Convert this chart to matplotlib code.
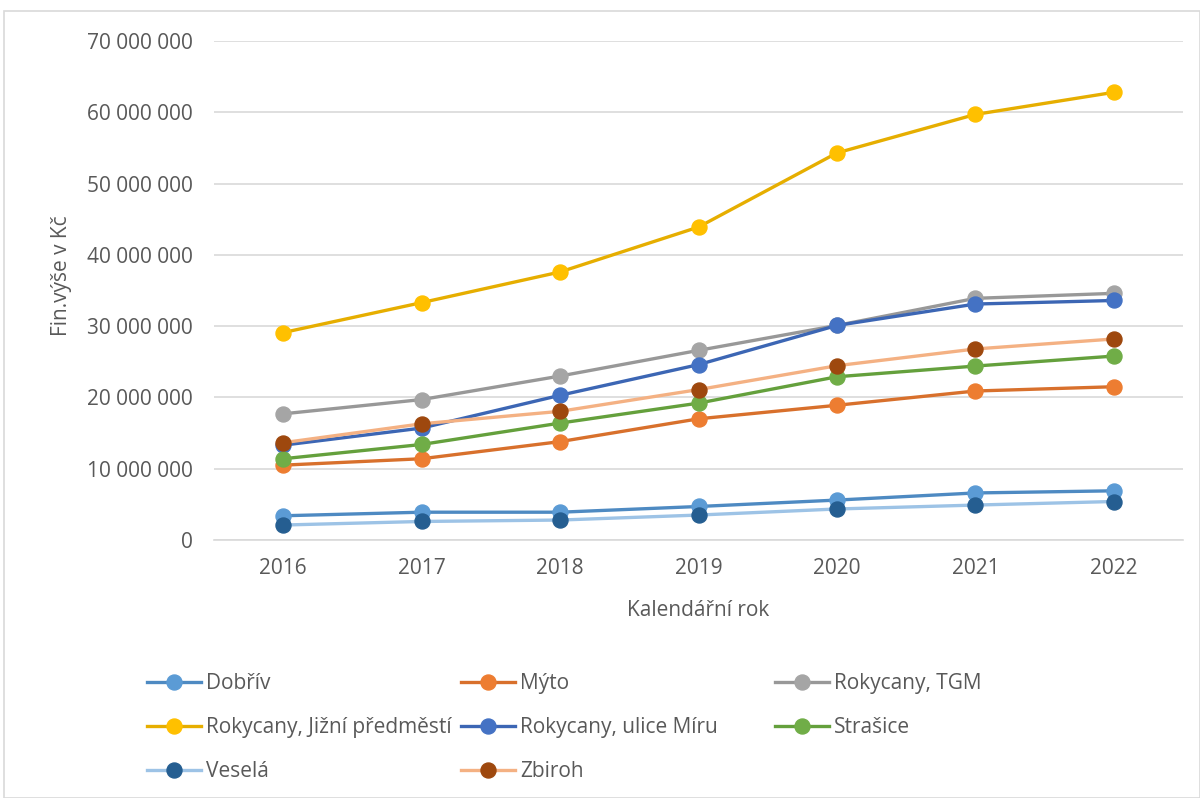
import matplotlib
matplotlib.use("Agg")
import matplotlib.pyplot as plt
from matplotlib.ticker import FuncFormatter
from matplotlib.patches import Rectangle

plt.rcParams['font.family'] = ['Open Sans', 'DejaVu Sans']

years = [2016, 2017, 2018, 2019, 2020, 2021, 2022]

dobriv = [3.4e6, 3.9e6, 3.9e6, 4.7e6, 5.6e6, 6.6e6, 6.9e6]
myto = [10.5e6, 11.4e6, 13.8e6, 17.0e6, 18.9e6, 20.9e6, 21.5e6]
tgm = [17.7e6, 19.7e6, 23.0e6, 26.6e6, 30.1e6, 33.9e6, 34.6e6]
jizni = [29.1e6, 33.3e6, 37.6e6, 43.9e6, 54.3e6, 59.7e6, 62.8e6]
miru = [13.3e6, 15.7e6, 20.3e6, 24.6e6, 30.1e6, 33.1e6, 33.6e6]
strasice = [11.4e6, 13.4e6, 16.4e6, 19.2e6, 22.9e6, 24.4e6, 25.8e6]
vesela = [2.1e6, 2.6e6, 2.8e6, 3.5e6, 4.35e6, 4.9e6, 5.4e6]
zbiroh = [13.65e6, 16.3e6, 18.05e6, 21.1e6, 24.45e6, 26.8e6, 28.2e6]

names = ["Dobřív", "Mýto", "Rokycany, TGM", "Rokycany, Jižní předměstí",
         "Rokycany, ulice Míru", "Strašice", "Veselá", "Zbiroh"]
series = [dobriv, myto, tgm, jizni, miru, strasice, vesela, zbiroh]
line_colors = ["#4E8AC2", "#D8702C", "#989898", "#E6AE00", "#3C66B4", "#64A03C", "#9DC3E6", "#F4B183"]
marker_colors = ["#5B9BD5", "#ED7D31", "#A5A5A5", "#FFC000", "#4472C4", "#70AD47", "#255E91", "#9E480E"]

W, H = 1200, 798
fig = plt.figure(figsize=(W / 100, H / 100), dpi=100)
fig.patches.append(Rectangle((4 / W, 0), 1 - 4 / W, 1 - 11 / H, transform=fig.transFigure,
                             fill=False, edgecolor="#D9D9D9", linewidth=1.2))

ax = fig.add_axes([214 / W, 1 - 540 / H, (1183 - 214) / W, (540 - 41) / H])
x = list(range(len(years)))
lines = []
for name, vals, lc, mc in zip(names, series, line_colors, marker_colors):
    ln, = ax.plot(x, vals, color=lc, lw=2.4, marker='o', markersize=10.8,
                  markerfacecolor=mc, markeredgecolor=mc, label=name, zorder=3)
    lines.append(ln)

ax.set_xlim(-0.5, len(years) - 0.5)
ax.set_ylim(0, 70e6)
ax.set_yticks([i * 10e6 for i in range(8)])
ax.yaxis.set_major_formatter(FuncFormatter(lambda v, p: f"{int(v):,}".replace(",", " ")))
ax.set_xticks(x)
ax.set_xticklabels([str(y) for y in years])
ax.grid(axis='y', color="#D9D9D9", lw=1.2, zorder=0)
for s in ["top", "right", "left"]:
    ax.spines[s].set_visible(False)
ax.spines["bottom"].set_color("#D9D9D9")
ax.spines["bottom"].set_linewidth(1.2)
ax.tick_params(axis='both', length=0, labelsize=15, colors="#595959")
ax.tick_params(axis='y', pad=15.5)
ax.tick_params(axis='x', pad=13)
ax.set_xlabel("Kalendářní rok", fontsize=15, color="#595959")
ax.set_ylabel("Fin.výše v Kč", fontsize=15, color="#595959")
ax.xaxis.set_label_coords(0.5, -(611 - 540) / 499, transform=ax.transAxes)
ax.xaxis.label.set_va('center')
ax.yaxis.set_label_coords((61 - 214) / 969, (540 - 276) / 499, transform=ax.transAxes)
ax.yaxis.label.set_va('center')

cols = [[0, 3, 6], [1, 4, 7], [2, 5]]
xs = [147, 461, 775]
for c, xp in zip(cols, xs):
    fig.legend([lines[i] for i in c], [names[i] for i in c],
               loc="upper left", bbox_to_anchor=(xp / W, 1 - 673 / H),
               frameon=False, fontsize=15, handlelength=2.6, handletextpad=0.24,
               labelspacing=1.11, borderaxespad=0, borderpad=0, labelcolor="#595959")

fig.savefig("out.png", dpi=100)
